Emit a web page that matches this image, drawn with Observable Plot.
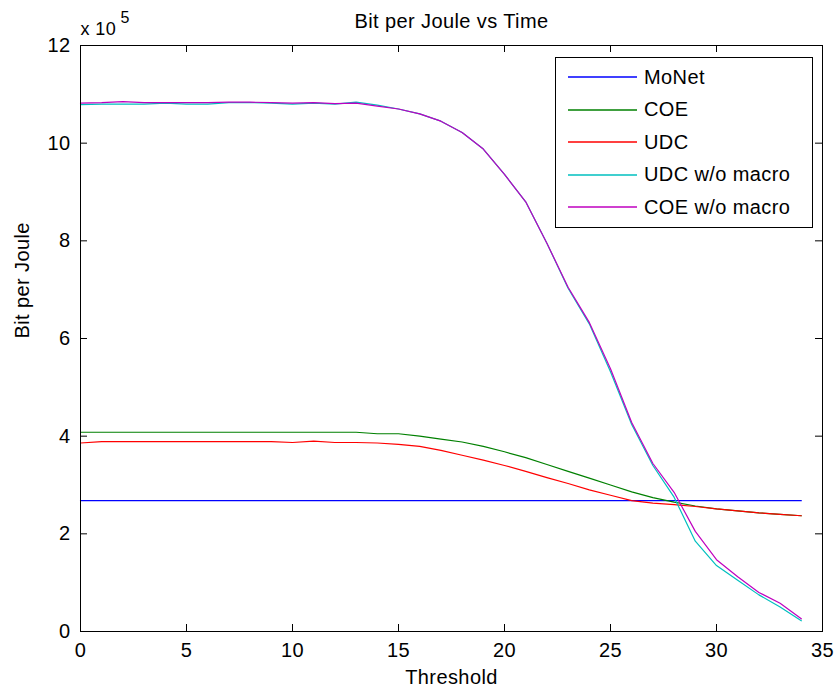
<!DOCTYPE html>
<html>
<head>
<meta charset="utf-8">
<script src="https://cdn.jsdelivr.net/npm/d3@7"></script>
<script src="https://cdn.jsdelivr.net/npm/@observablehq/plot@0.6"></script>
<style>
  body { margin: 0; background: #fff; }
  #wrap { position: relative; width: 835px; height: 690px; font-family: "Liberation Sans", Arial, sans-serif; }
  #legend { position: absolute; left: 555px; top: 57px; width: 256px; height: 166px; border: 1px solid #000; background: #fff; box-sizing: content-box; padding-top: 3px; }
  .row { height: 32.5px; display: flex; align-items: center; font-size: 20px; letter-spacing: 0.4px; color: #000; }
  .sw { display: block; margin-left: 12px; margin-right: 7px; }
</style>
</head>
<body>
<div id="wrap"></div>
<script>
// Threshold values (x)
const threshold = [0,1,2,3,4,5,6,7,8,9,10,11,12,13,14,15,16,17,18,19,20,21,22,23,24,25,26,27,28,29,30,31,32,33,34];

// Series values, in units of 10^5 bit per joule
const monet = [2.68,2.68,2.68,2.68,2.68,2.68,2.68,2.68,2.68,2.68,2.68,2.68,2.68,2.68,2.68,2.68,2.68,2.68,2.68,2.68,2.68,2.68,2.68,2.68,2.68,2.68,2.68,2.68,2.68,2.68,2.68,2.68,2.68,2.68,2.68];
const coe = [4.08,4.08,4.08,4.08,4.08,4.08,4.08,4.08,4.08,4.08,4.08,4.08,4.08,4.08,4.05,4.05,4.00,3.94,3.88,3.79,3.68,3.56,3.42,3.28,3.14,3.00,2.86,2.74,2.65,2.57,2.51,2.47,2.43,2.40,2.37];
const udc = [3.86,3.89,3.89,3.89,3.89,3.89,3.89,3.89,3.89,3.89,3.87,3.90,3.87,3.87,3.86,3.83,3.79,3.71,3.61,3.51,3.40,3.28,3.15,3.03,2.90,2.79,2.68,2.63,2.60,2.56,2.51,2.47,2.43,2.40,2.37];
const udcNoMacro = [10.79,10.80,10.80,10.80,10.82,10.80,10.80,10.83,10.83,10.82,10.80,10.82,10.80,10.84,10.78,10.70,10.60,10.45,10.22,9.88,9.36,8.80,7.95,7.03,6.30,5.32,4.24,3.40,2.75,1.85,1.35,1.05,0.75,0.50,0.22];
const coeNoMacro = [10.82,10.83,10.85,10.83,10.83,10.83,10.83,10.84,10.84,10.83,10.82,10.83,10.81,10.82,10.76,10.70,10.60,10.45,10.22,9.88,9.36,8.80,7.95,7.05,6.33,5.38,4.28,3.44,2.85,2.05,1.47,1.12,0.80,0.58,0.26];

const seriesNames = ["MoNet", "COE", "UDC", "UDC w/o macro", "COE w/o macro"];
const seriesValues = [monet, coe, udc, udcNoMacro, coeNoMacro];
const seriesColors = ["#0000ff", "#008000", "#ff0000", "#00bfbf", "#bf00bf"];

const xTicks = [0,5,10,15,20,25,30,35];
const yTicks = [0,2,4,6,8,10,12];

const W = 835, H = 690;
const mL = 80, mR = 13, mT = 45, mB = 59;
const fw = W - mL - mR, fh = H - mT - mB;
const tick = 7;

const lineMarks = seriesNames.map((name, k) =>
  Plot.line(threshold.map((t, i) => ({t, v: seriesValues[k][i]})), {
    x: "t", y: "v", stroke: seriesColors[k], strokeWidth: 1.2
  })
);

const chart = Plot.plot({
  width: W, height: H,
  marginLeft: mL, marginRight: mR, marginTop: mT, marginBottom: mB,
  style: {fontSize: "20px", fontFamily: "'Liberation Sans', Arial, sans-serif", background: "#fff", color: "#000", letterSpacing: "0.4px"},
  x: {domain: [0, 35]},
  y: {domain: [0, 12]},
  marks: [
    ...lineMarks,
    Plot.frame({stroke: "#000", strokeWidth: 1}),
    Plot.tickX(xTicks, {x: d => d, insetTop: fh - tick, stroke: "#000"}),
    Plot.tickX(xTicks, {x: d => d, insetBottom: fh - tick, stroke: "#000"}),
    Plot.tickY(yTicks, {y: d => d, insetRight: fw - tick, stroke: "#000"}),
    Plot.tickY(yTicks, {y: d => d, insetLeft: fw - tick, stroke: "#000"}),
    Plot.axisX({ticks: xTicks, tickSize: 0, tickPadding: 11, label: null, tickFormat: d => String(d)}),
    Plot.axisY({ticks: yTicks, tickSize: 0, tickPadding: 10, label: null, tickFormat: d => String(d)}),
    Plot.text(["Bit per Joule vs Time"], {frameAnchor: "top", lineAnchor: "top", dy: -32, fontSize: 20}),
    Plot.text(["Threshold"], {frameAnchor: "bottom", lineAnchor: "top", dy: 38, fontSize: 20}),
    Plot.text(["Bit per Joule"], {frameAnchor: "left", rotate: -90, dx: -58, fontSize: 20}),
    Plot.text(["x 10"], {frameAnchor: "top-left", textAnchor: "start", lineAnchor: "top", dy: -23, dx: 0, fontSize: 18}),
    Plot.text(["5"], {frameAnchor: "top-left", textAnchor: "start", lineAnchor: "top", dy: -34, dx: 40, fontSize: 16})
  ]
});

const wrap = document.getElementById("wrap");
wrap.appendChild(chart);

const legend = document.createElement("div");
legend.id = "legend";
const svgNS = "http://www.w3.org/2000/svg";
seriesNames.forEach((name, k) => {
  const row = document.createElement("div");
  row.className = "row";
  const sw = document.createElementNS(svgNS, "svg");
  sw.setAttribute("class", "sw");
  sw.setAttribute("width", "69");
  sw.setAttribute("height", "4");
  const ln = document.createElementNS(svgNS, "line");
  ln.setAttribute("x1", "0"); ln.setAttribute("x2", "69");
  ln.setAttribute("y1", "2"); ln.setAttribute("y2", "2");
  ln.setAttribute("stroke", seriesColors[k]);
  ln.setAttribute("stroke-width", "1.5");
  sw.appendChild(ln);
  const label = document.createElement("span");
  label.textContent = name;
  row.appendChild(sw);
  row.appendChild(label);
  legend.appendChild(row);
});
wrap.appendChild(legend);
</script>
</body>
</html>
